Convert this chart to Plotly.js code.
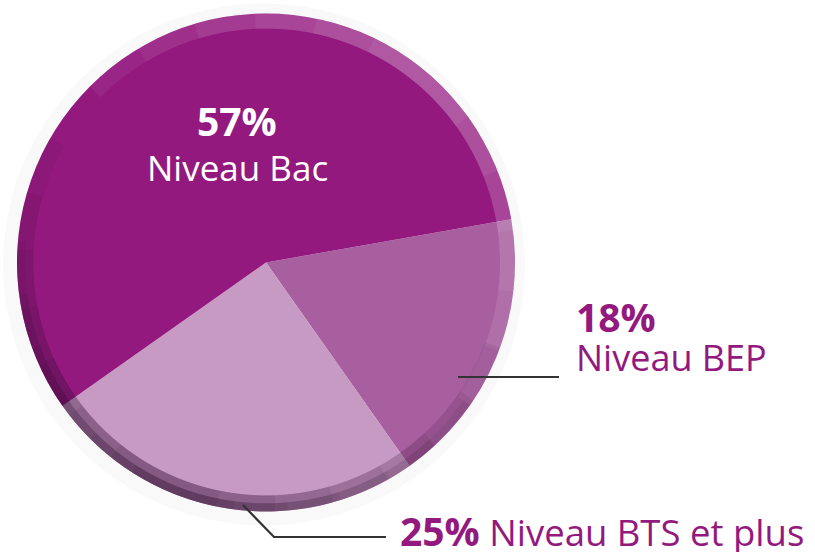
<!DOCTYPE html>
<html>
<head>
<meta charset="utf-8">
<script src="https://cdn.plot.ly/plotly-3.0.1.min.js"></script>
<style>html,body{margin:0;padding:0;background:#fff;}#chart{width:815px;height:552px;}</style>
</head>
<body>
<div id="chart"></div>
<script>
// ---- data ----
const categories = ['Niveau BEP', 'Niveau BTS et plus', 'Niveau Bac'];
const values = [18, 25, 57];
const percentLabels = values.map(v => v + '%');

// ---- styling ----
const sliceColors = ['#a85f9f', '#c69ac3', '#94197f'];
const textPurple = '#94197f';
const W = 815, H = 552;
const px = x => x / W;
const py = y => 1 - y / H;

// pie geometry (pixels)
const cx = 266, cy = 262.5, R = 249;

function arcPath(r, a0, a1, n) {
  let d = '';
  for (let i = 0; i <= n; i++) {
    const a = (a0 + (a1 - a0) * i / n) * Math.PI / 180;
    const x = px(cx + r * Math.sin(a));
    const y = py(cy - r * Math.cos(a));
    d += (i === 0 ? 'M' : 'L') + x + ',' + y;
  }
  return d;
}

const shapes = [];
// faint outer halo
shapes.push({type: 'circle', xref: 'paper', yref: 'paper', layer: 'below',
  x0: px(cx - R - 14), x1: px(cx + R + 10), y0: py(cy + R + 14), y1: py(cy - R - 10),
  fillcolor: 'rgba(0,0,0,0.025)', line: {width: 0}});

// stacked rim arcs (decorative 3D effect)
function rim(center, maxHalf, steps, color, opEach, width, r) {
  for (let k = 1; k <= steps; k++) {
    const h = maxHalf * k / steps;
    shapes.push({type: 'path', xref: 'paper', yref: 'paper', layer: 'above',
      path: arcPath(r, center - h, center + h, Math.max(8, Math.round(h / 2))),
      line: {color: 'rgba(' + color + ',' + opEach + ')', width: width}});
  }
}
rim(40, 85, 6, '255,255,255', 0.055, 15, R - 7.5);
rim(205, 95, 7, '45,15,45', 0.08, 16, R - 8);
rim(200, 75, 6, '45,15,45', 0.07, 8, R - 4);

// leader lines
shapes.push({type: 'line', xref: 'paper', yref: 'paper', layer: 'above',
  x0: px(458), y0: py(377), x1: px(559), y1: py(377), line: {color: '#333', width: 2.2}});
shapes.push({type: 'path', xref: 'paper', yref: 'paper', layer: 'above',
  path: 'M' + px(243) + ',' + py(505) + 'L' + px(274) + ',' + py(537) + 'L' + px(386) + ',' + py(537),
  line: {color: '#333', width: 2.2}});

const fontFam = '"Open Sans", "Noto Sans", sans-serif';
const annotations = [
  {text: '<b>' + percentLabels[2] + '</b>', x: px(237), y: py(121), font: {size: 39, color: '#fff', family: fontFam}, xanchor: 'center', yanchor: 'middle'},
  {text: categories[2], x: px(237.5), y: py(167), font: {size: 35, color: '#fff', family: fontFam}, xanchor: 'center', yanchor: 'middle'},
  {text: '<b>' + percentLabels[0] + '</b>', x: px(574), y: py(316), font: {size: 39, color: textPurple, family: fontFam}, xanchor: 'left', yanchor: 'middle'},
  {text: categories[0], x: px(574), y: py(357), font: {size: 36, color: textPurple, family: fontFam}, xanchor: 'left', yanchor: 'middle'},
  {text: '<b><span style="font-size:39px">' + percentLabels[1] + '</span></b> ' + categories[1], x: px(398), y: py(530), font: {size: 36.5, color: textPurple, family: fontFam}, xanchor: 'left', yanchor: 'middle'}
].map(a => Object.assign({xref: 'paper', yref: 'paper', showarrow: false}, a));

const trace = {
  type: 'pie',
  labels: categories,
  values: values,
  sort: false,
  direction: 'clockwise',
  rotation: 80,
  textinfo: 'none',
  hoverinfo: 'label+percent',
  marker: {colors: sliceColors, line: {width: 0}},
  domain: {x: [px(cx - R), px(cx + R)], y: [py(cy + R), py(cy - R)]},
  showlegend: false
};

Plotly.newPlot('chart', [trace], {
  width: W, height: H,
  margin: {l: 0, r: 0, t: 0, b: 0},
  paper_bgcolor: '#fff',
  showlegend: false,
  shapes: shapes,
  annotations: annotations
}, {displayModeBar: false, staticPlot: true});
</script>
</body>
</html>
